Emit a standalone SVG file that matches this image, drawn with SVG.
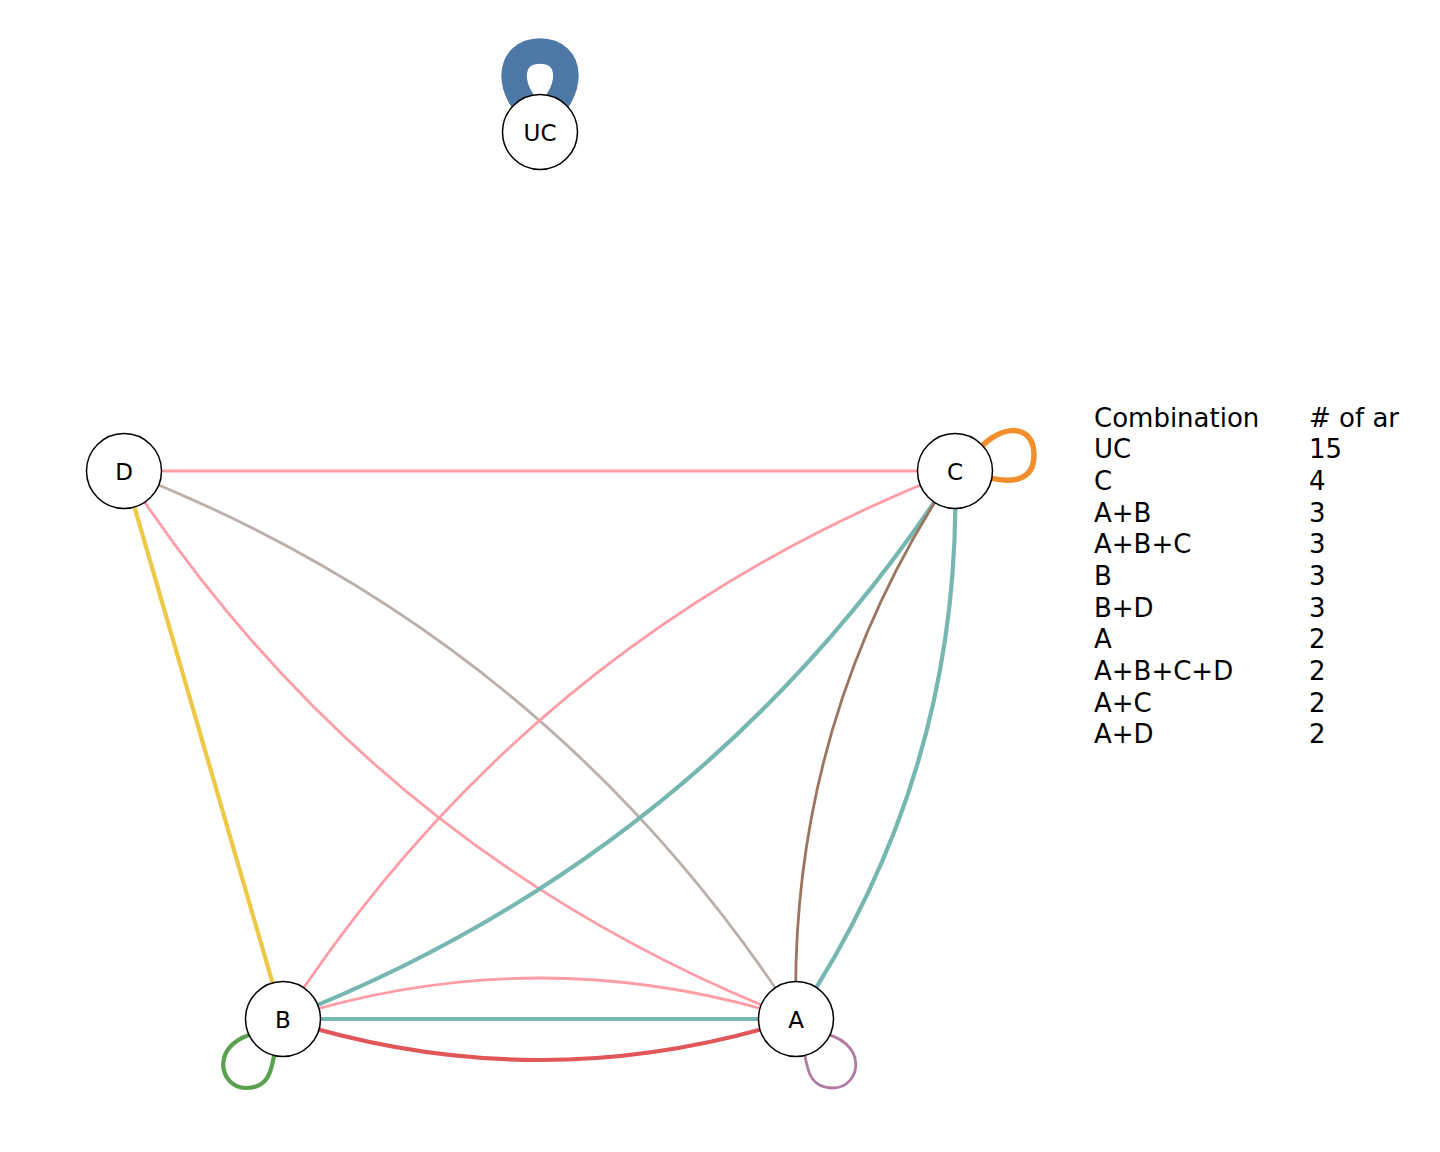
<svg xmlns="http://www.w3.org/2000/svg" width="1440" height="1152" viewBox="0 0 1440 1152">
<style>
.e{fill:none;stroke-linecap:butt}
.w2{stroke-width:2.8}
.w3{stroke-width:4.2}
.pink{stroke:#FF9DA7}
.teal{stroke:#76B7B2}
.red{stroke:#E15759}
.yellow{stroke:#EDC948}
.brown{stroke:#9C755F}
.gray{stroke:#BAB0AC}
.node circle{fill:#fff;stroke:#000;stroke-width:1.5}
.node text{font-family:"DejaVu Sans",sans-serif;font-size:23px;text-anchor:middle;fill:#000}
.leg text{font-family:"DejaVu Sans",sans-serif;font-size:26px;fill:#000}
</style>
<rect width="1440" height="1152" fill="#fff"/>
<g id="connectors">
<path class="e w2 pink" d="M124 471 L955 471"/>
<path class="e w2 gray" d="M124 471 Q548.5 636.5 796 1019"/>
<path class="e w2 pink" d="M124 471 Q371.5 853.5 796 1019"/>
<path class="e w2 pink" d="M955 471 Q530.5 636.5 283 1019"/>
<path class="e w3 teal" d="M955 471 Q707.5 853.5 283 1019"/>
<path class="e w3 teal" d="M955 471 Q963.1 770.5 796 1019"/>
<path class="e w2 brown" d="M955 471 Q787.9 719.5 796 1019"/>
<path class="e w2 pink" d="M283 1019 Q539.5 937 796 1019"/>
<path class="e w3 teal" d="M283 1019 L796 1019"/>
<path class="e w3 red" d="M283 1019 Q539.5 1101 796 1019"/>
<path class="e w3 yellow" d="M124 471 L283 1019"/>
<path class="e" stroke="#4E79A7" stroke-width="25.5" d="M540 120 C503 90 508 51 540 51 C572 51 577 90 540 120"/>
<path class="e" stroke="#F28E2B" stroke-width="5.5" d="M975 455 C995 425 1034 420 1034 455 C1034 482 1010 485 980 475"/>
<path class="e" stroke="#59A14F" stroke-width="4.2" d="M262 1032 C208 1040 218 1088 246 1088 C272 1088 272 1065 276 1045"/>
<path class="e" stroke="#B07AA1" stroke-width="2.8" d="M817 1032 C871 1040 861 1088 833 1088 C807 1088 807 1065 803 1045"/>
</g>
<g id="node-UC" class="node"><circle cx="540" cy="132" r="37.5"/><text x="540" y="140.5">UC</text></g>
<g id="node-D" class="node"><circle cx="124" cy="471" r="37.5"/><text x="124" y="479.5">D</text></g>
<g id="node-C" class="node"><circle cx="955" cy="471" r="37.5"/><text x="955" y="479.5">C</text></g>
<g id="node-B" class="node"><circle cx="283" cy="1019" r="37.5"/><text x="283" y="1027.5">B</text></g>
<g id="node-A" class="node"><circle cx="796" cy="1019" r="37.5"/><text x="796" y="1027.5">A</text></g>
<g id="legend" class="leg">
<text x="1094" y="426.7">Combination</text><text x="1309" y="426.7"># of ar</text>
<text x="1094" y="458.4">UC</text><text x="1309" y="458.4">15</text>
<text x="1094" y="490">C</text><text x="1309" y="490">4</text>
<text x="1094" y="521.7">A+B</text><text x="1309" y="521.7">3</text>
<text x="1094" y="553.3">A+B+C</text><text x="1309" y="553.3">3</text>
<text x="1094" y="585">B</text><text x="1309" y="585">3</text>
<text x="1094" y="616.7">B+D</text><text x="1309" y="616.7">3</text>
<text x="1094" y="648.3">A</text><text x="1309" y="648.3">2</text>
<text x="1094" y="680">A+B+C+D</text><text x="1309" y="680">2</text>
<text x="1094" y="711.7">A+C</text><text x="1309" y="711.7">2</text>
<text x="1094" y="743.3">A+D</text><text x="1309" y="743.3">2</text>
</g>
</svg>
